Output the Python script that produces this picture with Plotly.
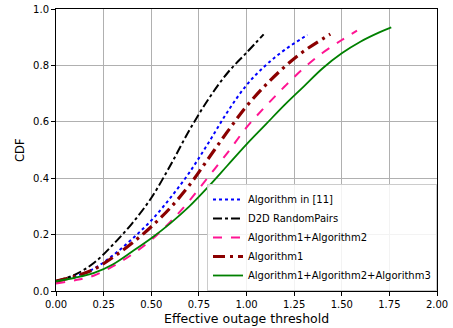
import plotly.graph_objects as go

x_blue = [0, 0.1, 0.2, 0.3, 0.4, 0.5, 0.6, 0.7, 0.8, 0.9, 1.0, 1.1, 1.2, 1.32]
y_blue = [0.035, 0.052, 0.08, 0.127, 0.185, 0.25, 0.33, 0.42, 0.525, 0.635, 0.73, 0.80, 0.855, 0.908]

x_black = [0, 0.1, 0.2, 0.3, 0.4, 0.5, 0.6, 0.7, 0.8, 0.9, 1.0, 1.09]
y_black = [0.035, 0.058, 0.10, 0.165, 0.24, 0.33, 0.445, 0.57, 0.68, 0.773, 0.845, 0.91]

x_pink = [0, 0.1, 0.2, 0.3, 0.4, 0.5, 0.6, 0.7, 0.8, 0.9, 1.0, 1.1, 1.2, 1.3, 1.4, 1.5, 1.58]
y_pink = [0.027, 0.038, 0.055, 0.088, 0.13, 0.181, 0.245, 0.32, 0.405, 0.49, 0.58, 0.655, 0.725, 0.79, 0.845, 0.89, 0.923]

x_red = [0, 0.1, 0.2, 0.3, 0.4, 0.5, 0.6, 0.7, 0.8, 0.9, 1.0, 1.1, 1.2, 1.3, 1.44]
y_red = [0.035, 0.052, 0.077, 0.12, 0.17, 0.228, 0.295, 0.375, 0.47, 0.565, 0.655, 0.73, 0.795, 0.85, 0.911]

x_green = [0, 0.1, 0.2, 0.3, 0.4, 0.5, 0.6, 0.7, 0.8, 0.9, 1.0, 1.1, 1.2, 1.3, 1.4, 1.5, 1.6, 1.7, 1.76]
y_green = [0.035, 0.047, 0.064, 0.095, 0.14, 0.187, 0.24, 0.30, 0.37, 0.445, 0.52, 0.59, 0.66, 0.725, 0.79, 0.843, 0.885, 0.918, 0.935]

x_title = "Effective outage threshold"
y_title = "CDF"

fig = go.Figure()
fig.add_trace(go.Scatter(x=x_blue, y=y_blue, mode="lines", name="Algorithm in [11]",
                         line=dict(color="blue", width=2, dash="dot", shape="spline")))
fig.add_trace(go.Scatter(x=x_black, y=y_black, mode="lines", name="D2D RandomPairs",
                         line=dict(color="black", width=2, dash="dashdot", shape="spline")))
fig.add_trace(go.Scatter(x=x_pink, y=y_pink, mode="lines", name="Algorithm1+Algorithm2",
                         line=dict(color="#ff1493", width=2, dash="dash", shape="spline")))
fig.add_trace(go.Scatter(x=x_red, y=y_red, mode="lines", name="Algorithm1",
                         line=dict(color="darkred", width=3.2, dash="12px,5px,3px,5px", shape="spline")))
fig.add_trace(go.Scatter(x=x_green, y=y_green, mode="lines", name="Algorithm1+Algorithm2+Algorithm3",
                         line=dict(color="green", width=1.8, shape="spline")))

font = "DejaVu Sans"
fig.update_layout(
    width=453, height=328,
    margin=dict(l=56, r=16, t=9, b=37),
    plot_bgcolor="white", paper_bgcolor="white",
    font=dict(family=font, size=10, color="black"),
    showlegend=True,
    legend=dict(x=1, y=0, xanchor="right", yanchor="bottom",
                bgcolor="rgba(255,255,255,0.85)", bordercolor="#cccccc", borderwidth=1,
                font=dict(family=font, size=10), tracegroupgap=0, itemwidth=30),
    annotations=[
        dict(text=x_title, xref="paper", yref="paper", x=0.5, y=-27 / 282,
             xanchor="center", yanchor="middle", showarrow=False,
             font=dict(family=font, size=12.5, color="black")),
        dict(text=y_title, xref="paper", yref="paper", x=-36 / 381, y=0.5,
             xanchor="center", yanchor="middle", showarrow=False, textangle=-90,
             font=dict(family=font, size=11.5, color="black")),
    ],
)
fig.update_xaxes(range=[0, 2], dtick=0.25, tick0=0, tickformat=".2f", automargin=False,
                 showgrid=True, gridcolor="#b0b0b0", gridwidth=1,
                 showline=True, linecolor="black", linewidth=1, mirror=True,
                 ticks="outside", ticklen=4, tickcolor="black", zeroline=False)
fig.update_yaxes(range=[0, 1], dtick=0.2, tick0=0, tickformat=".1f", automargin=False,
                 showgrid=True, gridcolor="#b0b0b0", gridwidth=1,
                 showline=True, linecolor="black", linewidth=1, mirror=True,
                 ticks="outside", ticklen=4, tickcolor="black", zeroline=False)

fig.write_html("out.html")
